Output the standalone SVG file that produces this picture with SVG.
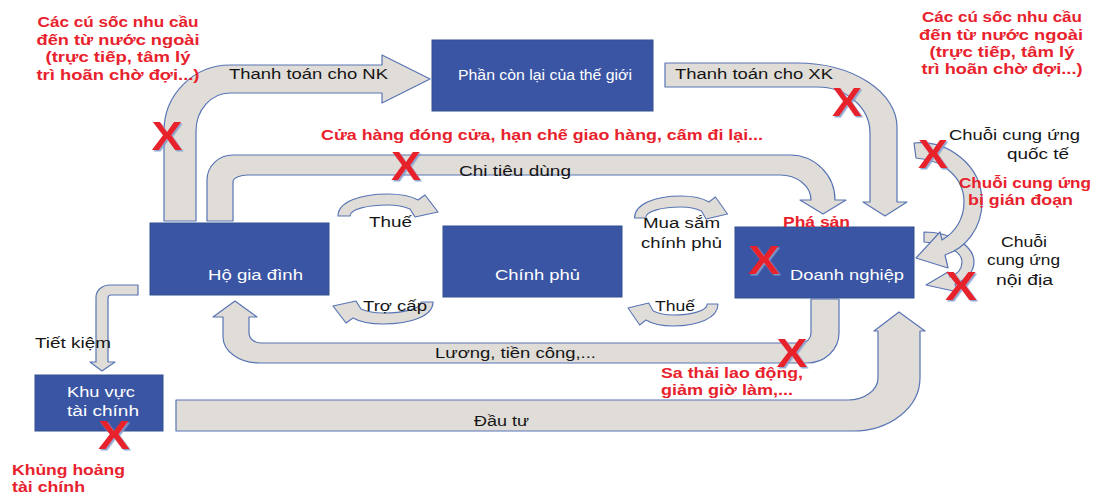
<svg xmlns="http://www.w3.org/2000/svg" xmlns:xlink="http://www.w3.org/1999/xlink" width="1098" height="495" viewBox="0 0 1098 495">
  <style>
    .box { fill: #3A55A4; stroke: #33508F; stroke-width: 1; }
    .flow { fill: #E0DDD8; stroke: #5874B4; stroke-width: 1.2; stroke-linejoin: round; }
    .lbl { font-family: "Liberation Sans", Arial, sans-serif; font-size: 15.5px; fill: #151515; }
    .in { font-family: "Liberation Sans", Arial, sans-serif; font-size: 15.5px; fill: #FFFFFF; }
    .warn { font-family: "Liberation Sans", Arial, sans-serif; font-size: 14.5px; font-weight: 700; fill: #E8222D; }
    .cross { font-family: "Liberation Sans", Arial, sans-serif; font-size: 40px; font-weight: 700; fill: #E8202A; filter: url(#xshadow); }
  </style>
  <defs>
    <filter id="xshadow" x="-30%" y="-30%" width="160%" height="160%">
      <feDropShadow dx="1.5" dy="1.5" stdDeviation="0.6" flood-color="#7F9CCB" flood-opacity="0.9"/>
    </filter>
    <!-- small curved arrow, tail at left, head at right pointing down-right -->
    <path id="hop" d="M-50,-4 C-50,-18 -28,-26 0,-26 C12,-26 23,-24 30,-20 L37,-25 L50,-8 L27,-3 L22,-11 C15,-14 8,-15 0,-15 C-20,-15 -38,-11 -38,-4 Z"/>
  </defs>

  <!-- connectors -->
  <g id="connectors">
    <!-- household imports payment to rest of world -->
    <path class="flow" d="M164,221 L164,131 A66,66 0 0 1 230,65 L382,65 L382,55 L430,79 L382,103 L382,93 L230,93 A34,38 0 0 0 196,131 L196,221 Z"/>
    <!-- consumption spending -->
    <path class="flow" d="M207,221 L207,180 A26,25 0 0 1 233,155 L790,155 A45,45 0 0 1 835,200 L846,200 L823,214 L800,200 L811,200 A31,25 0 0 0 780,175 L248,175 A15,7 0 0 0 233,182 L233,221 Z"/>
    <!-- export payment -->
    <path class="flow" d="M665,63 L797,63 A100,64 0 0 1 897,127 L897,202 L907,202 L885,216 L863,202 L870,202 L870,133 A53,46 0 0 0 817,87 L665,87 Z"/>
    <!-- wages -->
    <path class="flow" d="M811,299 L839,299 L839,333 A32,30 0 0 1 807,363 L260,363 A37,26 0 0 1 223,337 L223,317 L213,317 L235,301 L257,317 L249,317 L249,333 A12,10 0 0 0 261,343 L801,343 A10,10 0 0 0 811,333 Z"/>
    <!-- investment -->
    <path class="flow" d="M176,400 L848,400 A30,22 0 0 0 878,378 L878,331 L874,331 L899,312 L925,331 L920,331 L920,378 A67,53 0 0 1 853,431 L176,431 Z"/>
    <!-- savings -->
    <path class="flow" d="M138,285 L110,285 A14,12 0 0 0 96,297 L96,362 L90,362 L102,371 L115,362 L108,362 L108,298 A3,3 0 0 1 111,295 L138,295 Z"/>
    <!-- taxes / transfers / government purchases -->
    <use xlink:href="#hop" class="flow" transform="translate(388,220)"/>
    <use xlink:href="#hop" class="flow" transform="translate(681,222) scale(0.93,1)"/>
    <use xlink:href="#hop" class="flow" transform="translate(383,298) rotate(180)"/>
    <use xlink:href="#hop" class="flow" transform="translate(673,300) rotate(180) scale(0.9,1)"/>
    <!-- domestic supply chain -->
    <path class="flow" d="M924,232 C950,232 974,245 974,262 C974,272 966,280 955,284 L958,292 L926,285 L948,272 L950,277 C958,274 962,268 962,262 C962,252 948,244 924,242 Z"/>
    <!-- international supply chain -->
    <path class="flow" d="M914,143 C948,140 982,165 982,202 C982,228 966,248 945,255 L948,268 L916,258 L940,232 L942,240 C956,232 964,218 964,202 C964,178 944,160 916,158 Z"/>
  </g>

  <!-- flow labels -->
  <g id="flow-labels">
    <text class="lbl" x="229" y="79" textLength="159" lengthAdjust="spacingAndGlyphs">Thanh toán cho NK</text>
    <text class="lbl" x="675" y="79" textLength="158" lengthAdjust="spacingAndGlyphs">Thanh toán cho XK</text>
    <text class="lbl" x="459" y="176" textLength="112" lengthAdjust="spacingAndGlyphs">Chi tiêu dùng</text>
    <text class="lbl" x="369" y="227" textLength="43" lengthAdjust="spacingAndGlyphs">Thuế</text>
    <text class="lbl" x="363" y="311" textLength="64" lengthAdjust="spacingAndGlyphs">Trợ cấp</text>
    <text class="lbl" x="643" y="228" textLength="77" lengthAdjust="spacingAndGlyphs">Mua sắm</text>
    <text class="lbl" x="641" y="248" textLength="81" lengthAdjust="spacingAndGlyphs">chính phủ</text>
    <text class="lbl" x="655" y="311" textLength="40" lengthAdjust="spacingAndGlyphs">Thuế</text>
    <text class="lbl" x="435" y="358" textLength="161" lengthAdjust="spacingAndGlyphs">Lương, tiền công,...</text>
    <text class="lbl" x="474" y="426" textLength="55" lengthAdjust="spacingAndGlyphs">Đầu tư</text>
    <text class="lbl" x="35" y="348" textLength="76" lengthAdjust="spacingAndGlyphs">Tiết kiệm</text>
    <text class="lbl" x="949" y="140" textLength="131" lengthAdjust="spacingAndGlyphs">Chuỗi cung ứng</text>
    <text class="lbl" x="1007" y="159" textLength="62" lengthAdjust="spacingAndGlyphs">quốc tế</text>
    <text class="lbl" x="1001" y="247" textLength="46" lengthAdjust="spacingAndGlyphs">Chuỗi</text>
    <text class="lbl" x="987" y="265" textLength="73" lengthAdjust="spacingAndGlyphs">cung ứng</text>
    <text class="lbl" x="996" y="285" textLength="57" lengthAdjust="spacingAndGlyphs">nội địa</text>
  </g>

  <!-- sectors -->
  <g id="rest-of-world">
    <rect class="box" x="432" y="40" width="221" height="71"/>
    <text class="in" x="458" y="80" font-size="14" textLength="174" lengthAdjust="spacingAndGlyphs">Phần còn lại của thế giới</text>
  </g>
  <g id="households">
    <rect class="box" x="150" y="223" width="179" height="72"/>
    <text class="in" x="208" y="280" textLength="95" lengthAdjust="spacingAndGlyphs">Hộ gia đình</text>
  </g>
  <g id="government">
    <rect class="box" x="443" y="226" width="179" height="71"/>
    <text class="in" x="495" y="280" textLength="85" lengthAdjust="spacingAndGlyphs">Chính phủ</text>
  </g>
  <g id="firms">
    <rect class="box" x="735" y="227" width="179" height="71"/>
    <text class="in" x="790" y="280" textLength="114" lengthAdjust="spacingAndGlyphs">Doanh nghiệp</text>
  </g>
  <g id="financial-sector">
    <rect class="box" x="35" y="375" width="128" height="56"/>
    <text class="in" x="67" y="397" textLength="68" lengthAdjust="spacingAndGlyphs">Khu vực</text>
    <text class="in" x="67" y="416" textLength="72" lengthAdjust="spacingAndGlyphs">tài chính</text>
  </g>

  <!-- shock annotations -->
  <g id="shocks">
    <g text-anchor="middle">
      <text class="warn" x="118" y="27" textLength="161" lengthAdjust="spacingAndGlyphs">Các cú sốc nhu cầu</text>
      <text class="warn" x="118" y="45" textLength="163" lengthAdjust="spacingAndGlyphs">đến từ nước ngoài</text>
      <text class="warn" x="118" y="62" textLength="145" lengthAdjust="spacingAndGlyphs">(trực tiếp, tâm lý</text>
      <text class="warn" x="118" y="80" textLength="163" lengthAdjust="spacingAndGlyphs">trì hoãn chờ đợi...)</text>
      <text class="warn" x="1002" y="22" textLength="160" lengthAdjust="spacingAndGlyphs">Các cú sốc nhu cầu</text>
      <text class="warn" x="1001" y="39.5" textLength="164" lengthAdjust="spacingAndGlyphs">đến từ nước ngoài</text>
      <text class="warn" x="1002" y="56.5" textLength="145" lengthAdjust="spacingAndGlyphs">(trực tiếp, tâm lý</text>
      <text class="warn" x="1002" y="74" textLength="161" lengthAdjust="spacingAndGlyphs">trì hoãn chờ đợi...)</text>
    </g>
    <text class="warn" x="321" y="140" textLength="442" lengthAdjust="spacingAndGlyphs">Cửa hàng đóng cửa, hạn chế giao hàng, cấm đi lại...</text>
    <text class="warn" x="783" y="227" textLength="67" lengthAdjust="spacingAndGlyphs">Phá sản</text>
    <text class="warn" x="959" y="188" textLength="132" lengthAdjust="spacingAndGlyphs">Chuỗi cung ứng</text>
    <text class="warn" x="968" y="205" textLength="105" lengthAdjust="spacingAndGlyphs">bị gián đoạn</text>
    <text class="warn" x="661" y="378" textLength="142" lengthAdjust="spacingAndGlyphs">Sa thải lao động,</text>
    <text class="warn" x="661" y="395" textLength="132" lengthAdjust="spacingAndGlyphs">giảm giờ làm,...</text>
    <text class="warn" x="12" y="475" textLength="113" lengthAdjust="spacingAndGlyphs">Khủng hoảng</text>
    <text class="warn" x="12" y="492" textLength="73" lengthAdjust="spacingAndGlyphs">tài chính</text>
  </g>

  <!-- disruption marks -->
  <g id="marks" text-anchor="middle">
    <text class="cross" x="167" y="150" textLength="31" lengthAdjust="spacingAndGlyphs">X</text>
    <text class="cross" x="406" y="180" textLength="30" lengthAdjust="spacingAndGlyphs">X</text>
    <text class="cross" x="847" y="116" textLength="30" lengthAdjust="spacingAndGlyphs">X</text>
    <text class="cross" x="933" y="168" textLength="30" lengthAdjust="spacingAndGlyphs">X</text>
    <text class="cross" x="764" y="274" textLength="32" lengthAdjust="spacingAndGlyphs">X</text>
    <text class="cross" x="961" y="300" textLength="32" lengthAdjust="spacingAndGlyphs">X</text>
    <text class="cross" x="792" y="367" textLength="31" lengthAdjust="spacingAndGlyphs">X</text>
    <text class="cross" x="114" y="449" textLength="32" lengthAdjust="spacingAndGlyphs">X</text>
  </g>
</svg>
